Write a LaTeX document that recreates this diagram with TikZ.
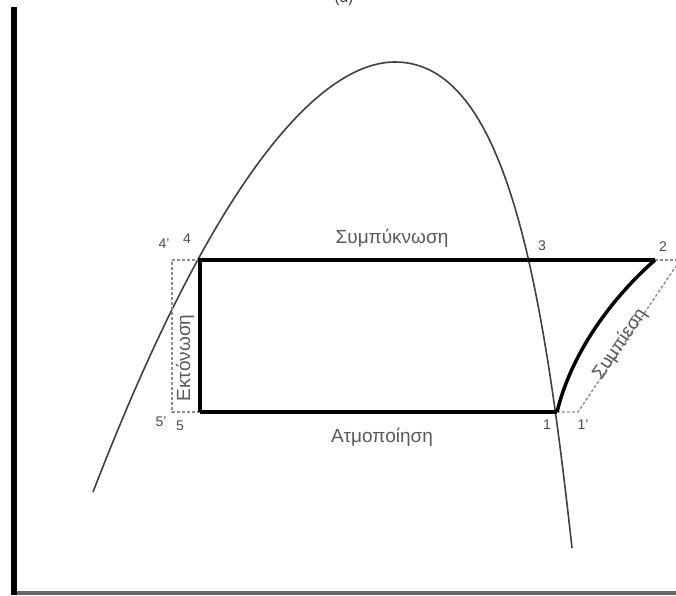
\documentclass[tikz,border=0pt]{standalone}
\usepackage{fontspec}
\setmainfont{Liberation Sans}
\begin{document}
\begin{tikzpicture}[x=1pt,y=-1pt,
	cycleline/.style={line width=3.5pt, black},
	helper/.style={densely dashed, line width=1.4pt, black!45},
	statelabel/.style={font=\fontsize{14}{14}\selectfont, text=black!70, inner sep=1pt},
	processlabel/.style={font=\fontsize{19}{19}\selectfont, text=black!65, inner sep=0pt}]
	\useasboundingbox (0,0) rectangle (676,595);
	
	% Заголовок (обрезан сверху)
	\node[font=\fontsize{15}{15}\selectfont, text=black!80] (title) at (344,-1) {(α)};
	
	% Оси
	\draw[line width=6pt] (14,7) -- (14,595);
	\draw[line width=4pt, black!60] (17,593) -- (676,593);
	
	% Пограничная кривая
	\coordinate (top) at (395,62);
	\draw[line width=1.6pt, black!75] (93,492) .. controls (225,150) and (330,62) .. (top)
		.. controls (505,62) and (542,276) .. (572,548);
	
	% Состояния
	\coordinate (s1) at (557,412);
	\coordinate (s2) at (655,260);
	\coordinate (s3) at (532,260);
	\coordinate (s4) at (200,260);
	\coordinate (s5) at (200,412);
	\coordinate (s1p) at (578,412);
	\coordinate (s4p) at (172,260);
	\coordinate (s5p) at (172,412);
	\coordinate (s2p) at (676,266);
	\coordinate (s2e) at (676,260);
	
	% Вспомогательные линии
	\draw[helper] (s4) -- (s4p) -- (s5p) -- (s5);
	\draw[helper] (s1) -- (s1p) -- (s2p);
	\draw[helper] (s2) -- (s2e);
	
	% Цикл
	\draw[cycleline, line join=miter] (s5) -- (s4) -- (s2);
	\draw[cycleline] (s5) -- (s1);
	\draw[cycleline] (s1) .. controls (572,350) and (615,295) .. (s2);
	
	% Подписи точек
	\node[statelabel] (l1) at (547,425) {1};
	\node[statelabel] (l1p) at (583,425) {1'};
	\node[statelabel] (l2) at (663,247) {2};
	\node[statelabel] (l3) at (542,246) {3};
	\node[statelabel] (l4) at (187,239) {4};
	\node[statelabel] (l4p) at (164,244) {4'};
	\node[statelabel] (l5) at (180,426) {5};
	\node[statelabel] (l5p) at (161,422) {5'};
	
	% Подписи процессов
	\node[processlabel] (cond) at (392,238) {Συμπύκνωση};
	\node[processlabel] (evap) at (382,437) {Ατμοποίηση};
	\node[processlabel, rotate=90] (expa) at (185,358) {Εκτόνωση};
	\node[processlabel, rotate=56] (comp) at (620,344) {Συμπίεση};
\end{tikzpicture}
\end{document}
